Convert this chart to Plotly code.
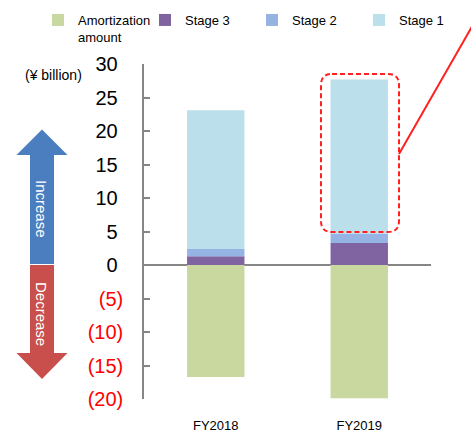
import plotly.graph_objects as go

categories = ["FY2018", "FY2019"]
amortization = [-16.7, -19.9]
stage3 = [1.3, 3.3]
stage2 = [1.1, 1.4]
stage1 = [20.7, 23.0]
series_names = ["Amortization<br>amount", "Stage 3", "Stage 2", "Stage 1"]
tick_vals = [30, 25, 20, 15, 10, 5, 0, -5, -10, -15, -20]
unit_label = "(¥ billion)"

colors = ["#C8D89F", "#8064A2", "#95B3E3", "#BCDFEC"]
FONT = "Liberation Sans, Arial, sans-serif"

W, H = 471, 434
L, R, T, B = 144, 40, 64, 35
PW, PH = W - L - R, H - T - B


def px(x):
    return (x - L) / PW


def py(y):
    return (H - B - y) / PH


fig = go.Figure()
for name, vals, col in zip(series_names, [amortization, stage3, stage2, stage1], colors):
    fig.add_trace(go.Bar(x=categories, y=vals, name=name, marker_color=col,
                         marker_line_width=0, width=0.4))


def tick_text(v):
    if v < 0:
        return "<span style='color:#FF0000'>(%d)</span>" % (-v)
    return "%d\u00a0" % v


shapes = []
# arrows
def arrow_path(tip_y, base_y, end_y):
    cx = 42
    pts = [(cx, tip_y), (67.5, base_y), (54, base_y), (54, end_y), (30, end_y), (30, base_y), (16.5, base_y)]
    return "M " + " L ".join("%.5f,%.5f" % (px(a), py(b)) for a, b in pts) + " Z"

shapes.append(dict(type="path", xref="paper", yref="paper", path=arrow_path(129.5, 155, 264),
                   fillcolor="#4A7EBF", line=dict(width=0), layer="above"))
shapes.append(dict(type="path", xref="paper", yref="paper", path=arrow_path(379, 353, 265),
                   fillcolor="#C94F4C", line=dict(width=0), layer="above"))

# rounded dashed highlight box
x0, x1, y0, y1, r = 321, 399, 74, 232, 11
pts = [
    ("M", [(x0 + r, y0)]), ("L", [(x1 - r, y0)]), ("Q", [(x1, y0), (x1, y0 + r)]),
    ("L", [(x1, y1 - r)]), ("Q", [(x1, y1), (x1 - r, y1)]), ("L", [(x0 + r, y1)]),
    ("Q", [(x0, y1), (x0, y1 - r)]), ("L", [(x0, y0 + r)]), ("Q", [(x0, y0), (x0 + r, y0)]),
]
path = " ".join(cmd + " " + " ".join("%.5f,%.5f" % (px(a), py(b)) for a, b in p) for cmd, p in pts) + " Z"
shapes.append(dict(type="path", xref="paper", yref="paper", path=path,
                   line=dict(color="#FF2020", width=2, dash="5px,3px"), layer="above"))
shapes.append(dict(type="line", xref="paper", yref="paper", x0=px(399), y0=py(154), x1=px(478), y1=py(16),
                   line=dict(color="#FF2020", width=2), layer="above"))

annotations = [
    dict(text=unit_label, xref="paper", yref="paper", x=px(53), y=py(75), showarrow=False,
         font=dict(family=FONT, size=14, color="black"), xanchor="center", yanchor="middle"),
    dict(text="Increase", xref="paper", yref="paper", x=px(42), y=py(209), showarrow=False,
         textangle=90, font=dict(family=FONT, size=15, color="white"), xanchor="center", yanchor="middle"),
    dict(text="Decrease", xref="paper", yref="paper", x=px(42), y=py(314), showarrow=False,
         textangle=90, font=dict(family=FONT, size=15, color="white"), xanchor="center", yanchor="middle"),
]

fig.update_layout(
    width=W, height=H,
    margin=dict(l=L, r=R, t=T, b=B, pad=0, autoexpand=False),
    paper_bgcolor="white", plot_bgcolor="white",
    barmode="relative",
    font=dict(family=FONT, color="black"),
    showlegend=True,
    legend=dict(orientation="h", x=px(38), y=py(5), xanchor="left", yanchor="top",
                entrywidth=62, entrywidthmode="pixels", itemwidth=30, traceorder="normal",
                font=dict(family=FONT, size=13, color="black"), bgcolor="rgba(0,0,0,0)",
                valign="top", tracegroupgap=0, borderwidth=0),
    shapes=shapes,
    annotations=annotations,
    xaxis=dict(showline=False, ticks="", showgrid=False, zeroline=False,
               tickfont=dict(family=FONT, size=13, color="black"), ticklabelstandoff=17,
               range=[-0.5, 1.5], fixedrange=True),
    yaxis=dict(range=[-20, 30], tickvals=tick_vals, ticktext=[tick_text(v) for v in tick_vals],
               showline=True, linecolor="#868686", linewidth=1.5, ticks="inside", ticklen=6,
               tickcolor="#868686", tickwidth=1.5, showgrid=False,
               zeroline=True, zerolinecolor="#868686", zerolinewidth=1.5,
               tickfont=dict(family=FONT, size=20, color="black"), ticklabelstandoff=15,
               layer="above traces", fixedrange=True),
)

fig.write_html("out.html")
